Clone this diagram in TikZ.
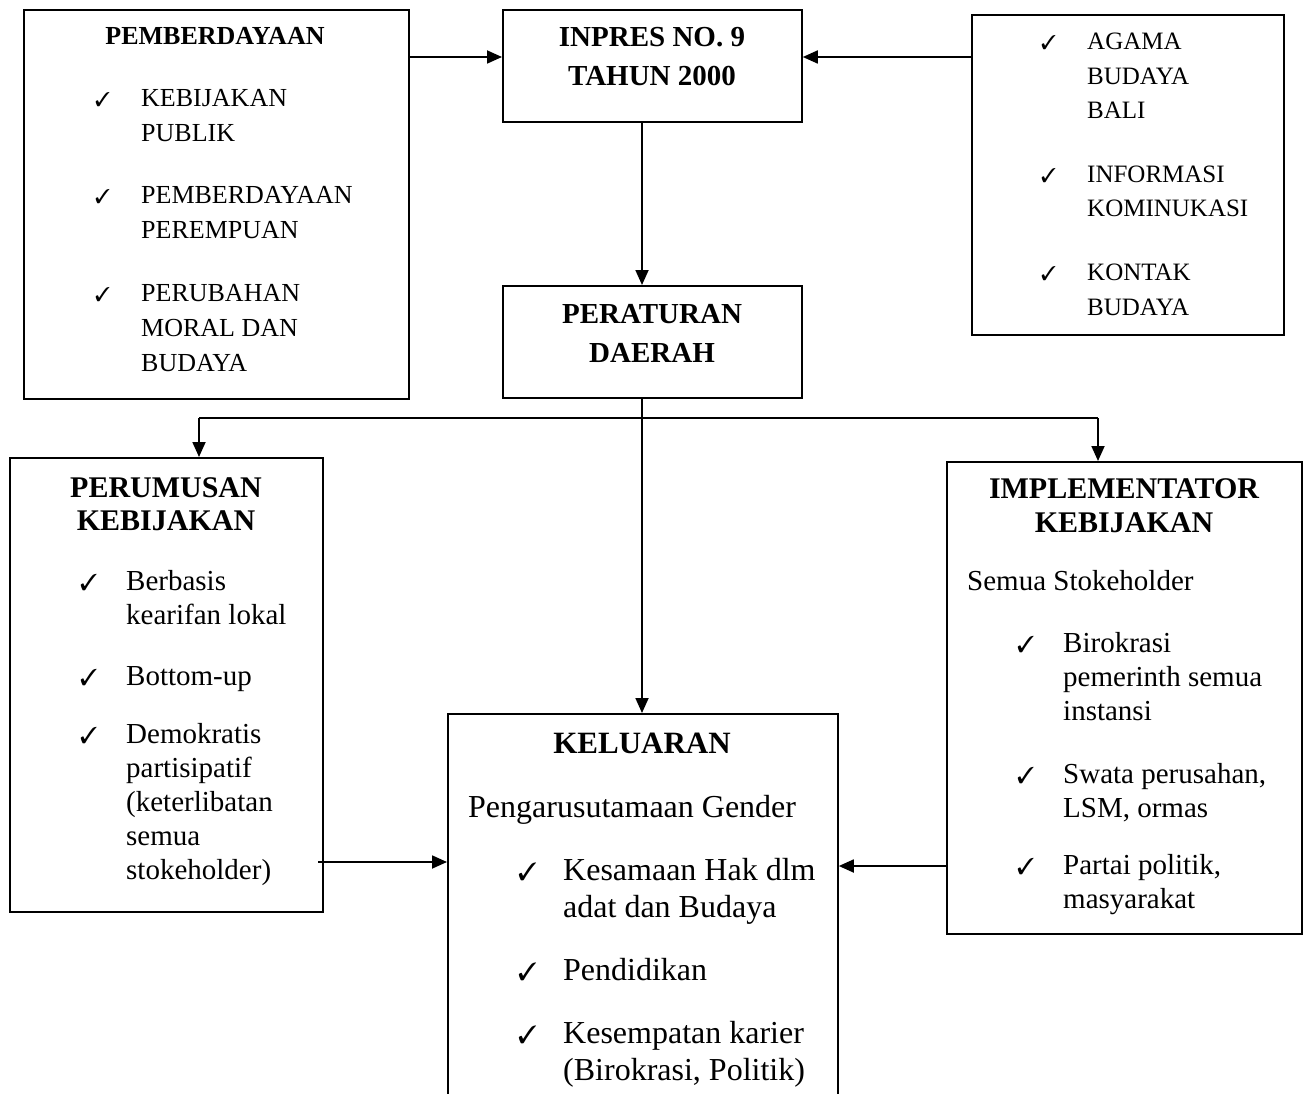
\documentclass[tikz,border=0pt]{standalone}
\usepackage{fontspec}
\setmainfont{Liberation Serif}
\usepackage{pifont}
\usetikzlibrary{arrows.meta}

\tikzset{
  box/.style={draw, line width=1.8pt, inner sep=0pt, anchor=north west},
  arr/.style={line width=1.8pt, -{Triangle[length=15pt,width=13pt]}},
  plain/.style={line width=1.8pt},
  txt/.style={anchor=base west, inner sep=0pt},
  head/.style={anchor=base, inner sep=0pt, font=\bfseries},
  chk/.style={anchor=base west, inner sep=0pt},
}
% sizes used in the different boxes
\newcommand{\smallsz}{\fontsize{26}{35}\selectfont}
\newcommand{\midsz}{\fontsize{29}{34}\selectfont}
\newcommand{\bigsz}{\fontsize{32}{37}\selectfont}
\newcommand{\headsz}{\fontsize{29}{39}\selectfont}

\begin{document}
\begin{tikzpicture}[x=1pt, y=-1pt]
\useasboundingbox (0,0) rectangle (1304,1094);

% ---------- boxes ----------
\node[box, minimum width=385pt, minimum height=389pt] (pem) at (23,9) {};
\node[box, minimum width=299pt, minimum height=112pt] (inp) at (502,9) {};
\node[box, minimum width=312pt, minimum height=320pt] (bud) at (971,14) {};
\node[box, minimum width=299pt, minimum height=112pt] (per) at (502,285) {};
\node[box, minimum width=313pt, minimum height=454pt] (rum) at (9,457) {};
\node[box, minimum width=355pt, minimum height=472pt] (imp) at (946,461) {};
\node[box, minimum width=390pt, minimum height=420pt] (kel) at (447,713) {};

% ---------- headings ----------
\node[head, font=\bfseries\fontsize{26}{35}\selectfont] (pemh) at (215,45) {PEMBERDAYAAN};
\node[head, font=\bfseries\headsz] (inph1) at (652,47) {INPRES NO. 9};
\node[head, font=\bfseries\headsz] (inph2) at (652,86) {TAHUN 2000};
\node[head, font=\bfseries\headsz] (perh1) at (652,323) {PERATURAN};
\node[head, font=\bfseries\headsz] (perh2) at (652,362) {DAERAH};
\node[head, font=\bfseries\fontsize{30}{33}\selectfont] (rumh1) at (166,497) {PERUMUSAN};
\node[head, font=\bfseries\fontsize{30}{33}\selectfont] (rumh2) at (166,530) {KEBIJAKAN};
\node[head, font=\bfseries\fontsize{30}{33}\selectfont] (imph1) at (1124,498) {IMPLEMENTATOR};
\node[head, font=\bfseries\fontsize{30}{33}\selectfont] (imph2) at (1124,532) {KEBIJAKAN};
\node[head, font=\bfseries\fontsize{31}{37}\selectfont] (kelh) at (642,753) {KELUARAN};

% ---------- PEMBERDAYAAN items ----------
\foreach \yy [count=\i] in {107,204,301}
  \node[chk, font=\fontsize{20}{20}\selectfont] (pemc\i) at (95,\yy) {\ding{51}};
\foreach \t/\yy [count=\i] in {KEBIJAKAN/107, PUBLIK/142, PEMBERDAYAAN/204,
    PEREMPUAN/239, PERUBAHAN/301, {MORAL DAN}/336, BUDAYA/371}
  \node[txt, font=\smallsz] (pemt\i) at (141,\yy) {\t};

% ---------- right top items ----------
\foreach \yy [count=\i] in {50,183,280}
  \node[chk, font=\fontsize{20}{20}\selectfont] (budc\i) at (1041,\yy) {\ding{51}};
\foreach \t/\yy [count=\i] in {AGAMA/50, BUDAYA/85, BALI/119, INFORMASI/183,
    KOMINUKASI/217, KONTAK/280, BUDAYA/315}
  \node[txt, font=\fontsize{25}{35}\selectfont] (budt\i) at (1087,\yy) {\t};

% ---------- PERUMUSAN items ----------
\foreach \yy [count=\i] in {590,685,743}
  \node[chk, font=\fontsize{23}{24}\selectfont] (rumc\i) at (80,\yy) {\ding{51}};
\foreach \t/\yy [count=\i] in {Berbasis/590, {kearifan lokal}/624, Bottom-up/685,
    Demokratis/743, partisipatif/777, {(keterlibatan}/811, semua/845, {stokeholder)}/879}
  \node[txt, font=\midsz] (rumt\i) at (126,\yy) {\t};

% ---------- IMPLEMENTATOR items ----------
\node[txt, font=\midsz] (imps) at (967,590) {Semua Stokeholder};
\foreach \yy [count=\i] in {652,783,874}
  \node[chk, font=\fontsize{23}{24}\selectfont] (impc\i) at (1017,\yy) {\ding{51}};
\foreach \t/\yy [count=\i] in {Birokrasi/652, {pemerinth semua}/686, instansi/720,
    {Swata perusahan,}/783, {LSM, ormas}/817, {Partai politik,}/874, masyarakat/908}
  \node[txt, font=\midsz] (impt\i) at (1063,\yy) {\t};

% ---------- KELUARAN items ----------
\node[txt, font=\bigsz] (kels) at (468,817) {Pengarusutamaan Gender};
\foreach \yy [count=\i] in {880,980,1043}
  \node[chk, font=\fontsize{25}{26}\selectfont] (kelc\i) at (518,\yy) {\ding{51}};
\foreach \t/\yy [count=\i] in {{Kesamaan Hak dlm}/880, {adat dan Budaya}/917,
    Pendidikan/980, {Kesempatan karier}/1043, {(Birokrasi, Politik)}/1080}
  \node[txt, font=\bigsz] (kelt\i) at (563,\yy) {\t};

% ---------- connectors ----------
\coordinate (ytop) at (0,57);
\coordinate (xmid) at (642,0);
\coordinate (brl) at (199,418);
\coordinate (brr) at (1098,418);
\coordinate (lin) at (318,862);
\coordinate (rin) at (0,866);

\draw[arr] (pem.east |- ytop) -- (inp.west |- ytop);
\draw[arr] (bud.west |- ytop) -- (inp.east |- ytop);
\draw[arr] (inp.south -| xmid) -- (per.north -| xmid);
\draw[arr] (per.south -| xmid) -- (kel.north -| xmid);
\draw[plain] (brl) -- (brr);
\draw[arr] (brl) -- (brl |- rum.north);
\draw[arr] (brr) -- (brr |- imp.north);
\draw[arr] (lin) -- (kel.west |- lin);
\draw[arr] (imp.west |- rin) -- (kel.east |- rin);
\end{tikzpicture}
\end{document}
